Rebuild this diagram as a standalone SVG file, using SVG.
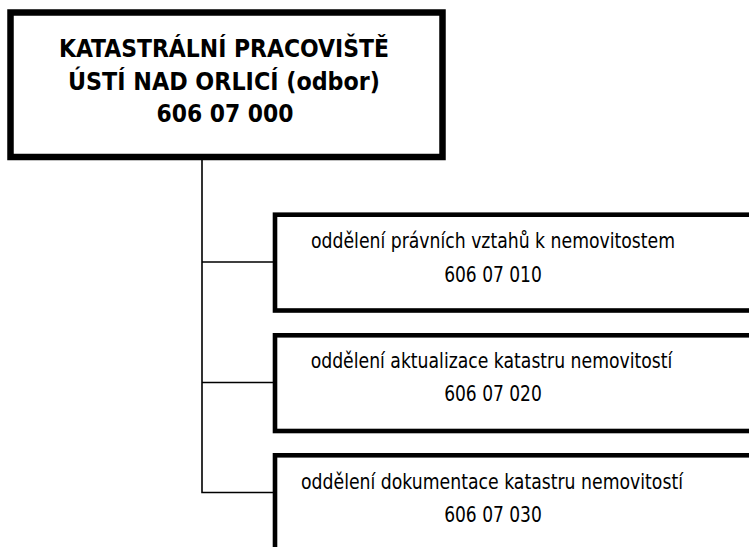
<svg xmlns="http://www.w3.org/2000/svg" width="749" height="547" viewBox="0 0 749 547">
<style>
.box{fill:#fff;stroke:#000}
.t{font-family:"DejaVu Sans Condensed","DejaVu Sans",sans-serif;fill:#000;text-anchor:middle}
.b{font-weight:bold;font-size:25px}
.n{font-size:20.5px}
.c{stroke:#000;stroke-width:1.6;fill:none}
</style>
<rect width="749" height="547" fill="#fff"/>
<g id="connectors">
<path class="c" d="M202 151V492.5M201.2 262H275M201.2 382.5H275M201.2 492.5H275"/>
</g>
<g id="root">
<rect class="box" x="10.5" y="12.5" width="432" height="144.5" stroke-width="6.5"/>
<text class="t b" x="224" y="56.7" textLength="330" lengthAdjust="spacingAndGlyphs">KATASTRÁLNÍ PRACOVIŠTĚ</text>
<text class="t b" x="224" y="89.5" textLength="312" lengthAdjust="spacingAndGlyphs">ÚSTÍ NAD ORLICÍ (odbor)</text>
<text class="t b" x="225" y="121.7" textLength="137" lengthAdjust="spacingAndGlyphs">606 07 000</text>
</g>
<g id="n010">
<rect class="box" x="275" y="214.7" width="490" height="95.8" stroke-width="4.6"/>
<text class="t n" x="493" y="248.3" textLength="364" lengthAdjust="spacingAndGlyphs">oddělení právních vztahů k nemovitostem</text>
<text class="t n" x="493" y="281.7" textLength="97.7" lengthAdjust="spacingAndGlyphs">606 07 010</text>
</g>
<g id="n020">
<rect class="box" x="275" y="335.3" width="490" height="95.7" stroke-width="4.6"/>
<text class="t n" x="491.5" y="368.3" textLength="361.6" lengthAdjust="spacingAndGlyphs">oddělení aktualizace katastru nemovitostí</text>
<text class="t n" x="493" y="401.3" textLength="97.7" lengthAdjust="spacingAndGlyphs">606 07 020</text>
</g>
<g id="n030">
<rect class="box" x="275" y="455.3" width="490" height="120" stroke-width="4.6"/>
<text class="t n" x="492" y="489.3" textLength="382" lengthAdjust="spacingAndGlyphs">oddělení dokumentace katastru nemovitostí</text>
<text class="t n" x="493" y="522" textLength="97.7" lengthAdjust="spacingAndGlyphs">606 07 030</text>
</g>
</svg>
